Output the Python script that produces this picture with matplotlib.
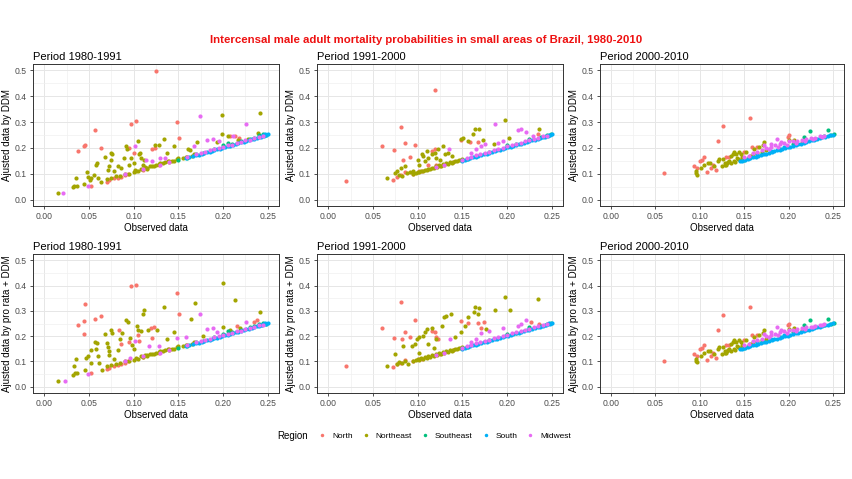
import matplotlib.pyplot as plt
from matplotlib.lines import Line2D

plt.rcParams['font.family'] = ['Liberation Sans', 'DejaVu Sans']

regions = ['North', 'Northeast', 'Southeast', 'South', 'Midwest']
region_colors = ['#F8766D', '#A3A500', '#00BF7D', '#00B0F6', '#E76BF3']
periods = ['Period 1980-1991', 'Period 1991-2000', 'Period 2000-2010']
x_ticks = [0.00, 0.05, 0.10, 0.15, 0.20, 0.25]
x_ticklabels = ['0.00', '0.05', '0.10', '0.15', '0.20', '0.25']
y_ticks = [0.0, 0.1, 0.2, 0.3, 0.4, 0.5]
y_ticklabels = ['0.0', '0.1', '0.2', '0.3', '0.4', '0.5']

# ---- 1980-1991 : points near the diagonal (same in both rows)
band_8091_north = [(0.052, 0.053), (0.070, 0.069), (0.073, 0.074), (0.078, 0.082), (0.082, 0.085),
                   (0.086, 0.089), (0.090, 0.094), (0.094, 0.100), (0.110, 0.116), (0.128, 0.135),
                   (0.140, 0.148)]
band_8091_northeast = [(0.070, 0.080), (0.075, 0.085), (0.080, 0.090), (0.085, 0.092), (0.090, 0.100),
                       (0.095, 0.100), (0.100, 0.105), (0.103, 0.112), (0.105, 0.110), (0.108, 0.120),
                       (0.110, 0.118), (0.113, 0.125), (0.115, 0.120), (0.118, 0.128), (0.120, 0.130),
                       (0.123, 0.128), (0.125, 0.132), (0.128, 0.138), (0.130, 0.140), (0.133, 0.142),
                       (0.135, 0.145), (0.138, 0.148), (0.140, 0.145), (0.143, 0.150), (0.145, 0.150),
                       (0.148, 0.156), (0.150, 0.160), (0.155, 0.160), (0.158, 0.166), (0.160, 0.165),
                       (0.165, 0.170), (0.168, 0.176)]
band_8091_midwest = [(0.090, 0.100), (0.110, 0.120), (0.130, 0.135), (0.140, 0.145), (0.160, 0.165),
                     (0.170, 0.175), (0.175, 0.180), (0.180, 0.185), (0.185, 0.190), (0.190, 0.195),
                     (0.195, 0.200), (0.200, 0.205), (0.205, 0.210), (0.210, 0.213), (0.215, 0.220),
                     (0.220, 0.222), (0.225, 0.230), (0.230, 0.232), (0.235, 0.238), (0.240, 0.243),
                     (0.245, 0.246)]
southeast_8091 = [(0.150, 0.155), (0.160, 0.162), (0.170, 0.175), (0.178, 0.182), (0.190, 0.195),
                  (0.200, 0.210), (0.205, 0.220), (0.210, 0.215), (0.220, 0.225), (0.230, 0.235),
                  (0.235, 0.240), (0.240, 0.250), (0.245, 0.252), (0.248, 0.250)]
south_8091 = [(0.158, 0.159), (0.162, 0.163), (0.166, 0.167), (0.170, 0.171), (0.173, 0.174),
              (0.176, 0.177), (0.179, 0.180), (0.182, 0.183), (0.185, 0.186), (0.188, 0.189),
              (0.190, 0.191), (0.193, 0.194), (0.196, 0.197), (0.199, 0.200), (0.202, 0.203),
              (0.205, 0.206), (0.208, 0.209), (0.211, 0.212), (0.214, 0.215), (0.217, 0.218),
              (0.220, 0.221), (0.223, 0.224), (0.226, 0.227), (0.229, 0.230), (0.232, 0.233),
              (0.235, 0.236), (0.238, 0.239), (0.240, 0.242), (0.242, 0.244), (0.244, 0.246),
              (0.246, 0.248), (0.248, 0.250), (0.250, 0.252), (0.247, 0.252), (0.245, 0.250)]

# ---- 1980-1991 : scattered points, DDM
ddm_8091_north = [(0.125, 0.499), (0.148, 0.300), (0.151, 0.239), (0.103, 0.304), (0.097, 0.292),
                  (0.057, 0.268), (0.044, 0.208), (0.046, 0.211), (0.038, 0.188), (0.064, 0.199),
                  (0.095, 0.199), (0.120, 0.195), (0.124, 0.201), (0.100, 0.182), (0.213, 0.248),
                  (0.208, 0.245), (0.218, 0.240)]
ddm_8091_northeast = [(0.016, 0.025), (0.032, 0.049), (0.033, 0.054), (0.036, 0.085), (0.037, 0.053),
                      (0.045, 0.062), (0.048, 0.105), (0.049, 0.089), (0.051, 0.076), (0.052, 0.085),
                      (0.058, 0.134), (0.059, 0.142), (0.056, 0.095), (0.060, 0.082), (0.063, 0.069),
                      (0.068, 0.164), (0.071, 0.115), (0.073, 0.131), (0.075, 0.155), (0.075, 0.182),
                      (0.076, 0.175), (0.078, 0.109), (0.082, 0.129), (0.086, 0.122), (0.089, 0.162),
                      (0.091, 0.208), (0.093, 0.195), (0.095, 0.135), (0.097, 0.162), (0.105, 0.228),
                      (0.106, 0.175), (0.107, 0.182), (0.108, 0.162), (0.110, 0.135), (0.112, 0.155),
                      (0.100, 0.142), (0.102, 0.115), (0.115, 0.122), (0.124, 0.211), (0.128, 0.211),
                      (0.134, 0.236), (0.137, 0.182), (0.145, 0.206), (0.161, 0.195), (0.163, 0.191),
                      (0.171, 0.221), (0.193, 0.221), (0.199, 0.328), (0.199, 0.252), (0.206, 0.245),
                      (0.241, 0.334), (0.239, 0.257), (0.217, 0.232), (0.228, 0.235)]
ddm_8091_midwest = [(0.021, 0.025), (0.049, 0.052), (0.174, 0.325), (0.226, 0.292), (0.102, 0.208),
                    (0.114, 0.153), (0.121, 0.149), (0.130, 0.160), (0.135, 0.162), (0.167, 0.208),
                    (0.182, 0.232), (0.189, 0.235), (0.195, 0.228), (0.211, 0.248)]

# ---- 1980-1991 : scattered points, pro rata + DDM
pr_8091_north = [(0.057, 0.267), (0.046, 0.326), (0.044, 0.260), (0.038, 0.244), (0.044, 0.208),
                 (0.064, 0.278), (0.097, 0.398), (0.103, 0.403), (0.148, 0.371), (0.151, 0.289),
                 (0.084, 0.223), (0.095, 0.175), (0.105, 0.204), (0.106, 0.182), (0.119, 0.231),
                 (0.123, 0.237), (0.121, 0.194), (0.215, 0.241), (0.235, 0.257), (0.238, 0.262),
                 (0.086, 0.169)]
pr_8091_northeast = [(0.016, 0.022), (0.032, 0.046), (0.033, 0.082), (0.034, 0.053), (0.036, 0.110),
                     (0.037, 0.056), (0.046, 0.066), (0.047, 0.114), (0.049, 0.120), (0.052, 0.147),
                     (0.052, 0.095), (0.057, 0.178), (0.059, 0.174), (0.058, 0.149), (0.060, 0.120),
                     (0.061, 0.095), (0.065, 0.066), (0.068, 0.207), (0.070, 0.171), (0.071, 0.158),
                     (0.072, 0.141), (0.073, 0.125), (0.075, 0.224), (0.076, 0.213), (0.078, 0.110),
                     (0.082, 0.144), (0.085, 0.188), (0.087, 0.213), (0.092, 0.265), (0.094, 0.254),
                     (0.096, 0.193), (0.098, 0.164), (0.100, 0.151), (0.104, 0.240), (0.105, 0.226),
                     (0.108, 0.219), (0.110, 0.288), (0.112, 0.302), (0.115, 0.125), (0.116, 0.226),
                     (0.126, 0.226), (0.134, 0.314), (0.137, 0.188), (0.145, 0.216), (0.164, 0.267),
                     (0.169, 0.330), (0.200, 0.410), (0.213, 0.342), (0.241, 0.297), (0.200, 0.237),
                     (0.208, 0.226), (0.219, 0.233), (0.178, 0.200)]
pr_8091_midwest = [(0.023, 0.022), (0.049, 0.050), (0.174, 0.287), (0.226, 0.256), (0.102, 0.182),
                   (0.117, 0.162), (0.128, 0.161), (0.148, 0.194), (0.158, 0.196), (0.182, 0.228),
                   (0.189, 0.231), (0.193, 0.215), (0.096, 0.112)]

# ---- 1991-2000 : points near the diagonal
band_9100_north = [(0.073, 0.076), (0.077, 0.089), (0.081, 0.095), (0.086, 0.105), (0.101, 0.109),
                   (0.095, 0.100), (0.105, 0.110), (0.125, 0.130), (0.140, 0.145)]
band_9100_northeast = [(0.095, 0.100), (0.098, 0.104), (0.100, 0.108), (0.102, 0.106), (0.104, 0.112),
                       (0.106, 0.110), (0.108, 0.116), (0.110, 0.114), (0.112, 0.120), (0.114, 0.118),
                       (0.116, 0.124), (0.118, 0.122), (0.120, 0.128), (0.122, 0.126), (0.124, 0.132),
                       (0.126, 0.130), (0.128, 0.136), (0.130, 0.134), (0.132, 0.140), (0.134, 0.138),
                       (0.136, 0.144), (0.138, 0.142), (0.140, 0.146), (0.142, 0.148), (0.144, 0.150),
                       (0.146, 0.152), (0.148, 0.153), (0.150, 0.156)]
band_9100_midwest = [(0.120, 0.125), (0.130, 0.135), (0.150, 0.155), (0.155, 0.162), (0.160, 0.166),
                     (0.165, 0.172), (0.170, 0.178), (0.175, 0.182), (0.180, 0.186), (0.185, 0.192),
                     (0.190, 0.196), (0.195, 0.200), (0.200, 0.206), (0.205, 0.212), (0.210, 0.215),
                     (0.215, 0.220), (0.220, 0.226), (0.225, 0.230), (0.230, 0.236), (0.235, 0.240),
                     (0.240, 0.245), (0.245, 0.248)]
southeast_9100 = [(0.150, 0.155), (0.155, 0.158), (0.165, 0.168), (0.180, 0.183), (0.200, 0.210),
                  (0.210, 0.214), (0.225, 0.235), (0.238, 0.242), (0.245, 0.250), (0.249, 0.252)]
south_9100 = [(0.150, 0.151), (0.153, 0.154), (0.156, 0.157), (0.159, 0.160), (0.162, 0.163),
              (0.165, 0.166), (0.168, 0.169), (0.171, 0.172), (0.174, 0.175), (0.177, 0.178),
              (0.180, 0.181), (0.183, 0.184), (0.186, 0.187), (0.189, 0.190), (0.192, 0.193),
              (0.195, 0.196), (0.198, 0.199), (0.201, 0.202), (0.204, 0.205), (0.207, 0.208),
              (0.210, 0.211), (0.213, 0.214), (0.216, 0.217), (0.219, 0.220), (0.222, 0.223),
              (0.225, 0.226), (0.228, 0.229), (0.231, 0.232), (0.234, 0.235), (0.237, 0.238),
              (0.240, 0.241), (0.242, 0.244), (0.244, 0.246), (0.246, 0.248), (0.248, 0.250),
              (0.250, 0.252), (0.247, 0.251)]

ddm_9100_north = [(0.020, 0.073), (0.060, 0.208), (0.074, 0.192), (0.081, 0.281), (0.086, 0.219),
                  (0.091, 0.164), (0.097, 0.211), (0.084, 0.155), (0.119, 0.423), (0.116, 0.188),
                  (0.119, 0.195), (0.148, 0.231), (0.158, 0.221), (0.168, 0.224), (0.121, 0.135),
                  (0.234, 0.255), (0.112, 0.135)]
ddm_9100_northeast = [(0.066, 0.085), (0.075, 0.102), (0.077, 0.109), (0.079, 0.095), (0.081, 0.122),
                      (0.083, 0.092), (0.086, 0.129), (0.088, 0.102), (0.092, 0.105), (0.095, 0.111),
                      (0.100, 0.155), (0.101, 0.135), (0.105, 0.175), (0.106, 0.168), (0.108, 0.149),
                      (0.110, 0.188), (0.112, 0.162), (0.116, 0.175), (0.119, 0.182), (0.121, 0.162),
                      (0.123, 0.195), (0.125, 0.155), (0.128, 0.206), (0.131, 0.175), (0.134, 0.182),
                      (0.138, 0.168), (0.148, 0.235), (0.151, 0.237), (0.156, 0.228), (0.162, 0.255),
                      (0.164, 0.274), (0.169, 0.274), (0.173, 0.231), (0.185, 0.215), (0.198, 0.308),
                      (0.202, 0.237), (0.236, 0.274)]
ddm_9100_midwest = [(0.135, 0.195), (0.187, 0.294), (0.171, 0.208), (0.175, 0.215), (0.190, 0.219),
                    (0.195, 0.228), (0.212, 0.268), (0.216, 0.274), (0.221, 0.261), (0.229, 0.248),
                    (0.160, 0.182), (0.165, 0.195)]

pr_9100_north = [(0.020, 0.082), (0.060, 0.231), (0.074, 0.192), (0.081, 0.334), (0.086, 0.218),
                 (0.083, 0.188), (0.091, 0.195), (0.097, 0.265), (0.116, 0.221), (0.119, 0.215),
                 (0.120, 0.195), (0.123, 0.188), (0.148, 0.261), (0.156, 0.252), (0.167, 0.252),
                 (0.174, 0.255), (0.171, 0.232), (0.227, 0.255), (0.236, 0.248)]
pr_9100_northeast = [(0.066, 0.080), (0.075, 0.129), (0.077, 0.089), (0.079, 0.098), (0.082, 0.092),
                     (0.084, 0.162), (0.086, 0.102), (0.089, 0.089), (0.094, 0.162), (0.097, 0.168),
                     (0.099, 0.188), (0.101, 0.195), (0.101, 0.135), (0.106, 0.199), (0.108, 0.215),
                     (0.110, 0.228), (0.112, 0.168), (0.116, 0.231), (0.118, 0.155), (0.121, 0.188),
                     (0.127, 0.241), (0.130, 0.274), (0.132, 0.281), (0.137, 0.288), (0.142, 0.195),
                     (0.149, 0.215), (0.153, 0.241), (0.156, 0.274), (0.163, 0.294), (0.164, 0.314),
                     (0.169, 0.311), (0.168, 0.288), (0.186, 0.303), (0.198, 0.353), (0.203, 0.303),
                     (0.235, 0.348), (0.176, 0.228)]
pr_9100_midwest = [(0.136, 0.188), (0.180, 0.221), (0.195, 0.231), (0.212, 0.241), (0.216, 0.248),
                   (0.221, 0.265), (0.171, 0.212), (0.165, 0.190), (0.160, 0.178)]

# ---- 2000-2010 : both methods give practically the same values
p0010_north = [(0.060, 0.101), (0.097, 0.123), (0.100, 0.150), (0.103, 0.155), (0.105, 0.163),
               (0.108, 0.107), (0.113, 0.123), (0.118, 0.114), (0.120, 0.225), (0.126, 0.285),
               (0.129, 0.166), (0.133, 0.163), (0.157, 0.316), (0.150, 0.186), (0.159, 0.203),
               (0.165, 0.203), (0.199, 0.243), (0.201, 0.249), (0.215, 0.223), (0.094, 0.131),
               (0.115, 0.133)]
p0010_northeast = [(0.096, 0.103), (0.097, 0.097), (0.096, 0.110), (0.101, 0.123), (0.105, 0.133),
                   (0.109, 0.143), (0.112, 0.141), (0.116, 0.130), (0.120, 0.150), (0.122, 0.157),
                   (0.126, 0.157), (0.128, 0.133), (0.131, 0.141), (0.133, 0.149), (0.135, 0.170),
                   (0.137, 0.176), (0.139, 0.183), (0.141, 0.176), (0.143, 0.157), (0.144, 0.186),
                   (0.146, 0.176), (0.152, 0.186), (0.156, 0.170), (0.161, 0.196), (0.167, 0.203),
                   (0.172, 0.223), (0.171, 0.212), (0.206, 0.232), (0.200, 0.230), (0.125, 0.130),
                   (0.128, 0.140), (0.130, 0.135), (0.132, 0.145), (0.135, 0.140), (0.138, 0.150),
                   (0.140, 0.145), (0.142, 0.160), (0.145, 0.155), (0.148, 0.165), (0.150, 0.160),
                   (0.155, 0.165), (0.160, 0.175), (0.165, 0.180), (0.170, 0.185), (0.175, 0.190)]
p0010_southeast = [(0.224, 0.265), (0.244, 0.269), (0.251, 0.253), (0.217, 0.243), (0.150, 0.155),
                   (0.170, 0.175), (0.190, 0.195), (0.205, 0.215), (0.230, 0.235), (0.240, 0.245),
                   (0.248, 0.250)]
p0010_south = [(0.145, 0.148), (0.148, 0.151), (0.151, 0.154), (0.154, 0.157), (0.157, 0.160),
               (0.160, 0.163), (0.163, 0.166), (0.166, 0.169), (0.169, 0.172), (0.172, 0.175),
               (0.175, 0.178), (0.178, 0.181), (0.181, 0.184), (0.184, 0.187), (0.187, 0.190),
               (0.190, 0.193), (0.193, 0.196), (0.196, 0.199), (0.199, 0.202), (0.202, 0.205),
               (0.205, 0.208), (0.208, 0.211), (0.211, 0.214), (0.214, 0.217), (0.217, 0.220),
               (0.220, 0.223), (0.223, 0.226), (0.226, 0.229), (0.229, 0.232), (0.232, 0.235),
               (0.235, 0.238), (0.238, 0.241), (0.241, 0.244), (0.244, 0.246), (0.247, 0.249),
               (0.250, 0.251), (0.155, 0.162), (0.165, 0.172), (0.180, 0.188), (0.195, 0.203)]
p0010_midwest = [(0.187, 0.236), (0.191, 0.223), (0.172, 0.210), (0.180, 0.216), (0.170, 0.190),
                 (0.175, 0.200), (0.180, 0.205), (0.185, 0.210), (0.190, 0.215), (0.195, 0.220),
                 (0.200, 0.225), (0.205, 0.225), (0.210, 0.228), (0.215, 0.232), (0.220, 0.235),
                 (0.225, 0.238), (0.230, 0.240), (0.235, 0.245), (0.240, 0.248), (0.160, 0.180),
                 (0.165, 0.185), (0.155, 0.170), (0.150, 0.163), (0.178, 0.195), (0.188, 0.205),
                 (0.198, 0.212), (0.208, 0.220), (0.218, 0.228), (0.228, 0.236), (0.238, 0.244)]

panels = [
    [ddm_8091_north + band_8091_north, ddm_8091_northeast + band_8091_northeast,
     southeast_8091, south_8091, ddm_8091_midwest + band_8091_midwest],
    [ddm_9100_north + band_9100_north, ddm_9100_northeast + band_9100_northeast,
     southeast_9100, south_9100, ddm_9100_midwest + band_9100_midwest],
    [p0010_north, p0010_northeast, p0010_southeast, p0010_south, p0010_midwest],
    [pr_8091_north + band_8091_north, pr_8091_northeast + band_8091_northeast,
     southeast_8091, south_8091, pr_8091_midwest + band_8091_midwest],
    [pr_9100_north + band_9100_north, pr_9100_northeast + band_9100_northeast,
     southeast_9100, south_9100, pr_9100_midwest + band_9100_midwest],
    [p0010_north, p0010_northeast, p0010_southeast, p0010_south, p0010_midwest],
]
ylabels = ['Ajusted data by DDM', 'Ajusted data by pro rata + DDM']

W, H = 852, 479
fig = plt.figure(figsize=(W / 100, H / 100), dpi=100)
cols = [(33, 246), (317, 246), (600, 244)]
rows = [(64, 206), (254, 393)]

for i, groups in enumerate(panels):
    r, c = divmod(i, 3)
    left, width = cols[c]
    top, bottom = rows[r]
    ax = fig.add_axes([left / W, 1 - bottom / H, width / W, (bottom - top) / H])
    for pts, col in zip(groups, region_colors):
        ax.scatter([p[0] for p in pts], [p[1] for p in pts], s=9, color=col,
                   linewidths=0, zorder=3)
    ax.set_xlim(-0.0125, 0.2625)
    ax.set_ylim(-0.025, 0.525)
    ax.set_xticks(x_ticks)
    ax.set_xticklabels(x_ticklabels)
    ax.set_yticks(y_ticks)
    ax.set_yticklabels(y_ticklabels)
    ax.set_xticks([0.025, 0.075, 0.125, 0.175, 0.225], minor=True)
    ax.set_yticks([0.05, 0.15, 0.25, 0.35, 0.45], minor=True)
    ax.grid(True, which='major', color='#e6e6e6', linewidth=0.7, zorder=0)
    ax.grid(True, which='minor', color='#f0f0f0', linewidth=0.5, zorder=0)
    ax.set_axisbelow(True)
    ax.tick_params(which='major', length=2.5, width=0.6, color='#333333',
                   labelsize=6.2, labelcolor='#4d4d4d', pad=2)
    ax.tick_params(which='minor', length=0)
    for sp in ax.spines.values():
        sp.set_color('#333333')
        sp.set_linewidth(0.7)
    ax.set_xlabel('Observed data', fontsize=7, labelpad=1)
    ax.set_ylabel(ylabels[r], fontsize=7, labelpad=2)
    ax.set_title(periods[c], loc='left', fontsize=8, pad=3)

fig.text(0.5, 1 - 40 / H, 'Intercensal male adult mortality probabilities in small areas of Brazil, 1980-2010',
         ha='center', va='center', color='#ee1111', fontweight='bold', fontsize=8.2)

handles = [Line2D([], [], marker='o', linestyle='', markersize=2.5, color=c, markeredgewidth=0)
           for c in region_colors]
fig.text(277 / W, 1 - 436 / H, 'Region', fontsize=7, va='center')
fig.legend(handles, regions, loc='center left', bbox_to_anchor=(317 / W, 1 - 436 / H), ncol=5,
           frameon=False, fontsize=6, handlelength=1.2, handletextpad=0.6, columnspacing=0.95,
           borderaxespad=0, borderpad=0)

fig.savefig('out.png', dpi=100)
